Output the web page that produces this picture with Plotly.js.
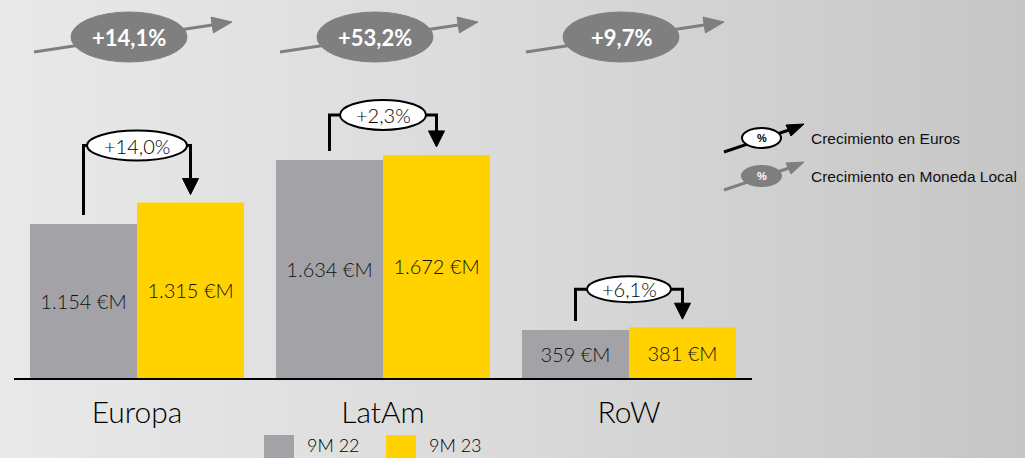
<!DOCTYPE html>
<html>
<head>
<meta charset="utf-8">
<script src="https://cdn.plot.ly/plotly-3.0.1.min.js"></script>
<style>
html,body{margin:0;padding:0;}
body{width:1025px;height:458px;background:linear-gradient(to right,#e9e9e9 0%,#dadada 50%,#c6c6c6 100%);overflow:hidden;}
#chart{width:1025px;height:458px;}
</style>
</head>
<body>
<div id="chart"></div>
<script>
// ---- data ----
const categories = ['Europa', 'LatAm', 'RoW'];
const seriesNames = ['9M 22', '9M 23'];
const values22 = [1154, 1634, 359];
const values23 = [1315, 1672, 381];
const labels22 = ['1.154 €M', '1.634 €M', '359 €M'];
const labels23 = ['1.315 €M', '1.672 €M', '381 €M'];
const growthEuros = ['+14,0%', '+2,3%', '+6,1%'];
const growthLocal = ['+14,1%', '+53,2%', '+9,7%'];
const legendNotes = ['Crecimiento en Euros', 'Crecimiento en Moneda Local'];

// ---- layout constants ----
const W = 1025, HT = 458;
const M = {l: 14, r: 273, t: 0, b: 80};
const PW = W - M.l - M.r;      // 738
const PH = HT - M.t - M.b;     // 378
const YMAX = 2833;
const CATPX = PW / categories.length; // px per category
const GREY = '#a3a3a7', YELLOW = '#ffd200', DARKG = '#7f7f7f';
const FONT = '"Century Gothic","URW Gothic",Lato,"DejaVu Sans",sans-serif';
const ARIAL = '"Liberation Sans", Arial, sans-serif';

// pixel offset helpers (data coordinates)
const dx = px => px / CATPX;
const dy = px => px * YMAX / PH;
const yFromTop = px => (PH - px) * YMAX / PH;   // absolute pixel from plot top -> data
const paperX = px => (px - M.l) / PW;
const paperY = px => (M.t + PH - px) / PH;

const barHalf = 0.87 / 4; // half bar width in category units (bargap 0.13, 2 bars)

const shapes = [];
const annotations = [];

// brackets with euro growth
const levelPx = [57, 40, 38];
const ellHalfW = [50, 43, 42];
const ellHalfH = [15, 15, 13];
for (let i = 0; i < categories.length; i++) {
  const gx = i - barHalf, yx = i + barHalf;
  const lvl = Math.max(values22[i], values23[i]) + dy(levelPx[i]);
  const start = values22[i] + dy(9);
  const tip = values23[i] + dy(8);
  const headBase = tip + dy(16);
  shapes.push({type: 'path', xref: 'x', yref: 'y',
    path: `M${gx},${start} L${gx},${lvl} L${i - dx(ellHalfW[i])},${lvl} M${i + dx(ellHalfW[i])},${lvl} L${yx},${lvl} L${yx},${headBase}`,
    line: {color: '#000', width: 3}});
  shapes.push({type: 'path', xref: 'x', yref: 'y',
    path: `M${yx - dx(8)},${headBase} L${yx + dx(8)},${headBase} L${yx},${tip} Z`,
    fillcolor: '#000', line: {color: '#000', width: 1}});
  shapes.push({type: 'circle', xref: 'x', yref: 'y',
    x0: i - dx(ellHalfW[i]), x1: i + dx(ellHalfW[i]),
    y0: lvl - dy(ellHalfH[i]), y1: lvl + dy(ellHalfH[i]),
    fillcolor: '#fff', line: {color: '#000', width: 2}});
  annotations.push({xref: 'x', yref: 'y', x: i, y: lvl, xanchor: 'center', yanchor: 'middle',
    text: growthEuros[i], showarrow: false,
    font: {family: FONT, size: 20, weight: 300, color: '#000'}});
}

// top arrows with local currency growth
for (let i = 0; i < categories.length; i++) {
  const x0 = i + dx(-103), y0 = yFromTop(52);
  const tx = i + dx(95), ty = yFromTop(22);
  const vx = 198, vy = -30, len = Math.hypot(vx, vy);
  const ux = vx / len, uy = vy / len;
  const hl = 20, hw = 8;
  const bx = 95 - ux * hl, by = 22 - uy * hl;
  shapes.push({type: 'path', xref: 'x', yref: 'y',
    path: `M${x0},${y0} L${i + dx(bx)},${yFromTop(by)}`,
    line: {color: DARKG, width: 3}});
  shapes.push({type: 'path', xref: 'x', yref: 'y',
    path: `M${tx},${ty} L${i + dx(bx - uy * hw)},${yFromTop(by + ux * hw)} L${i + dx(bx + uy * hw)},${yFromTop(by - ux * hw)} Z`,
    fillcolor: DARKG, line: {color: DARKG, width: 1}});
  shapes.push({type: 'circle', xref: 'x', yref: 'y',
    x0: i + dx(-66), x1: i + dx(50), y0: yFromTop(62), y1: yFromTop(12),
    fillcolor: DARKG, line: {color: DARKG, width: 1}});
  annotations.push({xref: 'x', yref: 'y', x: i + dx(-8), y: yFromTop(37), xanchor: 'center', yanchor: 'middle',
    text: '<b>' + growthLocal[i] + '</b>',
    showarrow: false, font: {family: FONT, size: 22, color: '#fff'}});
}

// right-side explanatory legend
const noteY = [138, 176];
const noteColors = ['#000', DARKG];
for (let k = 0; k < 2; k++) {
  const c = noteColors[k];
  const ly = noteY[k];
  shapes.push({type: 'path', xref: 'paper', yref: 'paper',
    path: `M${paperX(724)},${paperY(ly + 14)} L${paperX(792)},${paperY(ly - 9)}`,
    line: {color: c, width: 3}});
  shapes.push({type: 'path', xref: 'paper', yref: 'paper',
    path: `M${paperX(804)},${paperY(ly - 14)} L${paperX(786)},${paperY(ly - 13)} L${paperX(791)},${paperY(ly - 2)} Z`,
    fillcolor: c, line: {color: c, width: 1}});
  shapes.push({type: 'circle', xref: 'paper', yref: 'paper',
    x0: paperX(742), x1: paperX(781), y0: paperY(ly + 10), y1: paperY(ly - 10),
    fillcolor: k === 0 ? '#fff' : DARKG, line: {color: k === 0 ? '#000' : DARKG, width: 2}});
  annotations.push({xref: 'paper', yref: 'paper', x: paperX(761.5), y: paperY(ly), xanchor: 'center', yanchor: 'middle',
    text: '<b>%</b>', showarrow: false,
    font: {family: ARIAL, size: 11, color: k === 0 ? '#000' : '#fff'}});
  annotations.push({xref: 'paper', yref: 'paper', x: paperX(809), y: paperY(ly), xanchor: 'left', yanchor: 'middle',
    text: legendNotes[k], showarrow: false, font: {family: ARIAL, size: 15.5, color: '#111'}});
}

// bottom series legend
const legX = [264, 386];
const legColors = [GREY, YELLOW];
for (let k = 0; k < 2; k++) {
  shapes.push({type: 'rect', xref: 'paper', yref: 'paper',
    x0: paperX(legX[k]), x1: paperX(legX[k] + 30), y0: paperY(435), y1: paperY(460),
    fillcolor: legColors[k], line: {width: 0}});
  annotations.push({xref: 'paper', yref: 'paper', x: paperX(legX[k] + 41), y: paperY(445),
    xanchor: 'left', yanchor: 'middle',
    text: seriesNames[k], showarrow: false, font: {family: FONT, size: 18, weight: 300, color: '#000'}});
}

const barFont = {family: FONT, size: 20, weight: 300, color: '#111'};
const traces = [
  {type: 'bar', name: seriesNames[0], x: categories, y: values22, text: labels22,
   marker: {color: GREY}, textposition: 'inside', insidetextanchor: 'middle', textangle: 0,
   constraintext: 'none', textfont: barFont, hoverinfo: 'skip'},
  {type: 'bar', name: seriesNames[1], x: categories, y: values23, text: labels23,
   marker: {color: YELLOW}, textposition: 'inside', insidetextanchor: 'middle', textangle: 0,
   constraintext: 'none', textfont: barFont, hoverinfo: 'skip'}
];

const layout = {
  width: W, height: HT,
  margin: M,
  paper_bgcolor: 'rgba(0,0,0,0)', plot_bgcolor: 'rgba(0,0,0,0)',
  barmode: 'group', bargap: 0.13, bargroupgap: 0,
  showlegend: false,
  xaxis: {type: 'category', range: [-0.5, 2.5], showline: true, linecolor: '#000', linewidth: 2,
    ticks: '', showgrid: false, zeroline: false, ticklabelstandoff: 7,
    tickfont: {family: FONT, size: 30, weight: 300, color: '#000'}, fixedrange: true},
  yaxis: {range: [0, YMAX], visible: false, showgrid: false, zeroline: false, fixedrange: true},
  shapes: shapes,
  annotations: annotations,
  font: {family: FONT}
};

Plotly.newPlot('chart', traces, layout, {displayModeBar: false, staticPlot: true});
</script>
</body>
</html>
